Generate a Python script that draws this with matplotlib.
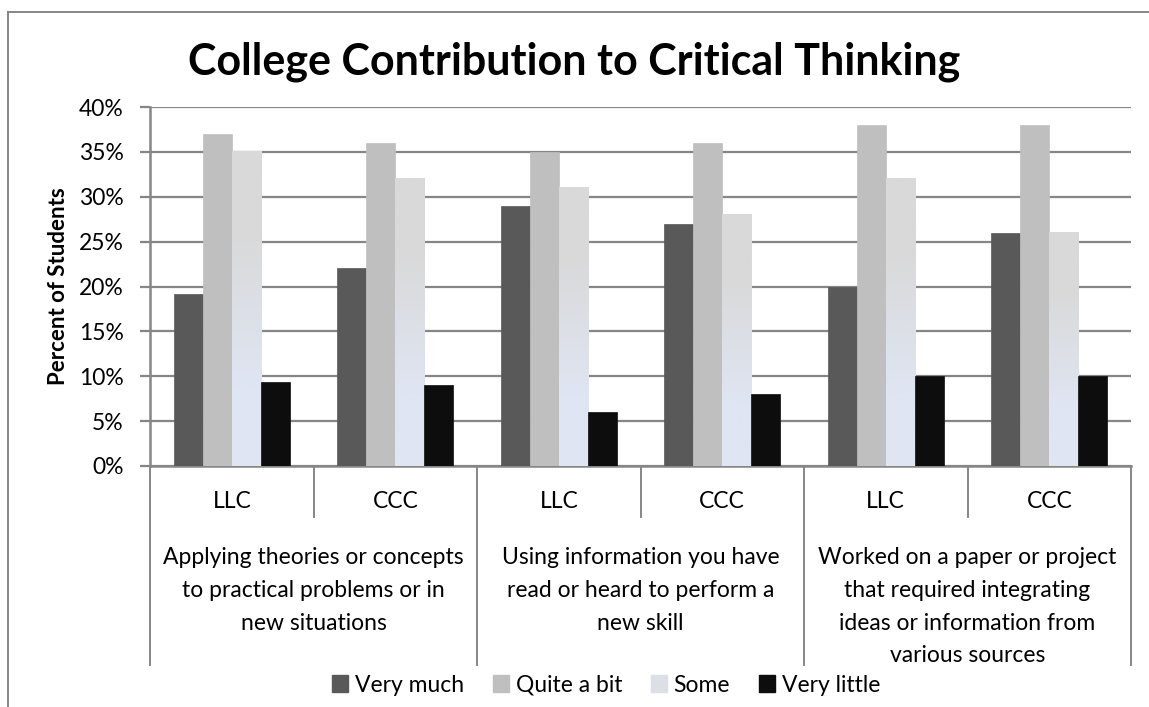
import matplotlib
matplotlib.use('Agg')
import matplotlib.pyplot as plt
import matplotlib.patches as mpatches
import matplotlib.transforms as mtransforms
import numpy as np

plt.rcParams['font.family'] = ['Lato', 'DejaVu Sans']

# data
groups = ['Applying theories or concepts\nto practical problems or in\nnew situations',
          'Using information you have\nread or heard to perform a\nnew skill',
          'Worked on a paper or project\nthat required integrating\nideas or information from\nvarious sources']
colleges = ['LLC', 'CCC']
series = ['Very much', 'Quite a bit', 'Some', 'Very little']
very_much = [19.2, 22.1, 29, 27, 20, 26]
quite_a_bit = [37, 36, 35, 36, 38, 38]
some = [35, 32, 31, 28, 32, 26]
very_little = [9.4, 9, 6, 8, 10, 10]
values = [very_much, quite_a_bit, some, very_little]
colors = ['#595959', '#bfbfbf', '#d9d9d9', '#0d0d0d']
some_bottom = '#dfe5f2'

W, H = 1149, 707
fig = plt.figure(figsize=(W / 100, H / 100), dpi=100)
ax = fig.add_axes([150 / W, 1 - 466 / H, (1131 - 150) / W, (466 - 107) / H])

n_cat = len(groups) * len(colleges)
bw = 0.1775
x0 = np.arange(n_cat) + 0.5 - 2 * bw
grid_col = '#868686'
fs = 16.5

for k, (vals, c) in enumerate(zip(values, colors)):
    xs = x0 + k * bw
    if series[k] == 'Some':
        # light gray to pale blue gradient, like the excel fill
        grad = np.array([[matplotlib.colors.to_rgb(c)], [matplotlib.colors.to_rgb(some_bottom)]])
        for x, v in zip(xs, vals):
            ax.imshow(grad, extent=(x, x + bw, 0, v), aspect='auto',
                      interpolation='bilinear', zorder=3, origin='upper')
    else:
        ax.bar(xs, vals, width=bw, align='edge', color=c, zorder=3,
               edgecolor=c, linewidth=0.5)

ax.set_xlim(0, n_cat)
ax.set_ylim(0, 40)
ax.set_yticks(np.arange(0, 41, 5))
ax.set_yticklabels([f'{t}%' for t in range(0, 41, 5)], fontsize=fs)
ax.yaxis.grid(True, color=grid_col, linewidth=1.6, zorder=0)
ax.set_axisbelow(True)
ax.tick_params(axis='y', length=7, width=1.6, color=grid_col, pad=12)
ax.set_xticks([])
for s in ['top', 'right']:
    ax.spines[s].set_visible(False)
for s in ['left', 'bottom']:
    ax.spines[s].set_color(grid_col)
    ax.spines[s].set_linewidth(1.8)
ax.set_ylabel('Percent of Students', fontsize=16, fontweight='bold', labelpad=7)

# multi-level category axis
trans = mtransforms.blended_transform_factory(ax.transData, ax.transAxes)
for i in range(n_cat + 1):
    bottom = -0.554 if i % 2 == 0 else -0.142
    ax.plot([i, i], [0, bottom], color=grid_col, lw=1.4, transform=trans, clip_on=False)
for i in range(n_cat):
    ax.text(i + 0.5, -0.100, colleges[i % 2], transform=trans, ha='center', va='center',
            fontsize=fs)
for g, label in enumerate(groups):
    ax.text(2 * g + 1, -0.226, label, transform=trans, ha='center', va='top',
            fontsize=fs, linespacing=1.69)

fig.text(574 / W, 1 - 62 / H, 'College Contribution to Critical Thinking',
         ha='center', va='center', fontsize=31, fontweight='bold')

handles = [mpatches.Patch(color=c) for c in colors[:2]] + \
          [mpatches.Patch(color='#dcdfe6'), mpatches.Patch(color=colors[3])]
fig.legend(handles, series, loc='center', bbox_to_anchor=(606 / W, 1 - 685 / H),
           ncol=4, frameon=False, fontsize=fs, handlelength=0.7, handleheight=0.7,
           handletextpad=0.3, columnspacing=1.25, borderpad=0)

# chart border
fig.add_artist(plt.Line2D([8 / W, 8 / W], [0, 1 - 12 / H], color=grid_col, lw=1.4))
fig.add_artist(plt.Line2D([8 / W, 1], [1 - 12 / H, 1 - 12 / H], color=grid_col, lw=1.4))

fig.savefig('out.png', dpi=100)
